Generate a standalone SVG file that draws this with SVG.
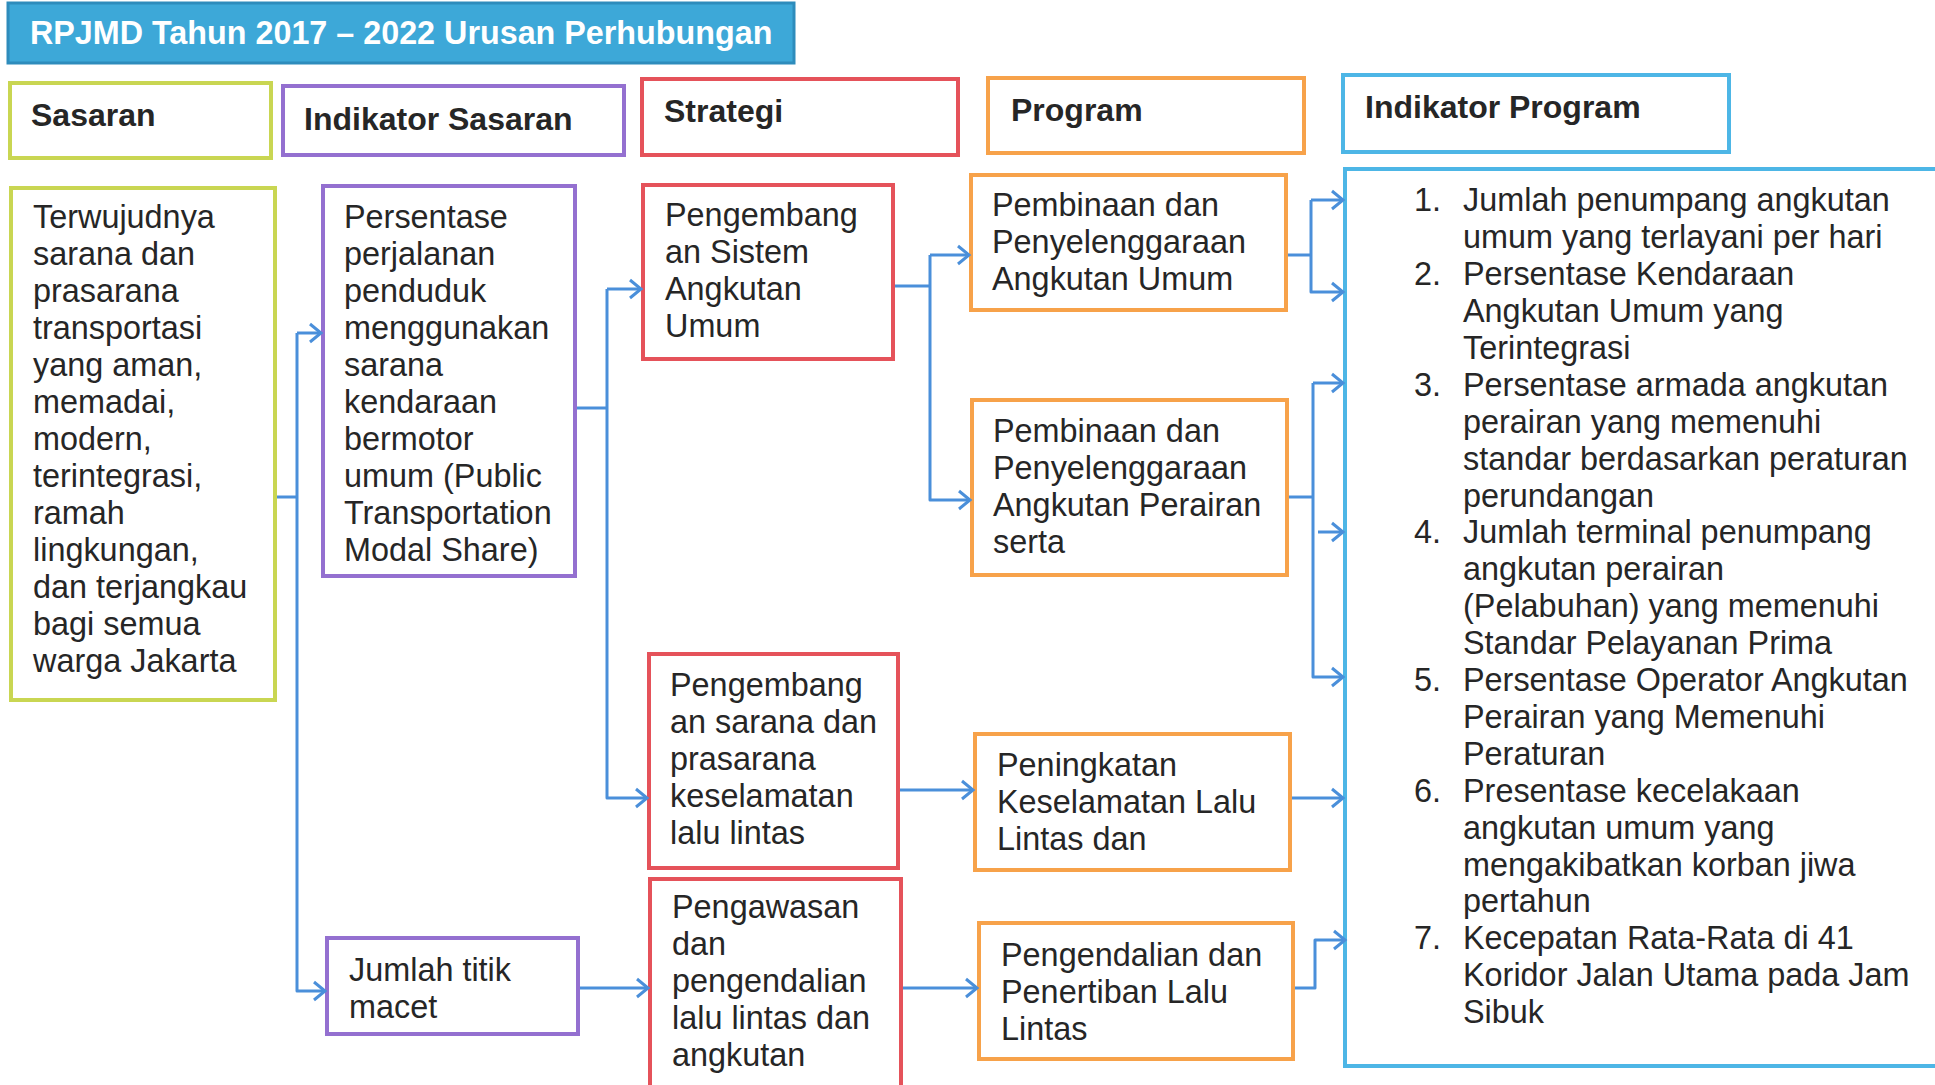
<svg xmlns="http://www.w3.org/2000/svg" width="1935" height="1085" viewBox="0 0 1935 1085">
<style>
.box{fill:#fff;stroke-width:4}
.y{stroke:#C9D652}
.p{stroke:#9470D0}
.r{stroke:#E5525A}
.o{stroke:#F7A24A}
.b{stroke:#4DB6E6}
.hd{font-family:"Liberation Sans",Arial,sans-serif;font-weight:bold;font-size:32px;fill:#262626}
.tx{font-family:"Liberation Sans",Arial,sans-serif;font-size:32.4px;fill:#262626}
.cn{fill:none;stroke:#4A8FDA;stroke-width:3;stroke-linejoin:round}
.ar{marker-end:url(#arr)}
</style>
<defs>
<marker id="arr" markerUnits="userSpaceOnUse" markerWidth="16" markerHeight="22" refX="13" refY="11" orient="auto">
<path d="M2,2 L13,11 L2,20" fill="none" stroke="#4A8FDA" stroke-width="3"/>
</marker>
</defs>
<rect width="1935" height="1085" fill="#fff"/>

<g id="title">
<rect x="8" y="3" width="786" height="60" fill="#3DA8D8" stroke="#2E8CBC" stroke-width="3"/>
<text x="30" y="44" font-family="'Liberation Sans',Arial,sans-serif" font-weight="bold" font-size="32.3" fill="#fff">RPJMD Tahun 2017 – 2022 Urusan Perhubungan</text>
</g>

<g id="hdr-sasaran"><rect class="box y" x="10" y="83" width="261" height="75"/><text class="hd" x="31" y="126">Sasaran</text></g>
<g id="hdr-indikator-sasaran"><rect class="box p" x="283" y="86" width="341" height="69"/><text class="hd" x="304" y="130">Indikator Sasaran</text></g>
<g id="hdr-strategi"><rect class="box r" x="642" y="79" width="316" height="76"/><text class="hd" x="664" y="122">Strategi</text></g>
<g id="hdr-program"><rect class="box o" x="988" y="78" width="316" height="75"/><text class="hd" x="1011" y="121">Program</text></g>
<g id="hdr-indikator-program"><rect class="box b" x="1343" y="75" width="386" height="77"/><text class="hd" x="1365" y="118">Indikator Program</text></g>

<g id="sasaran">
<rect class="box y" x="11" y="188" width="264" height="512"/>
<text class="tx"><tspan x="33" y="228">Terwujudnya</tspan><tspan x="33" dy="37">sarana dan</tspan><tspan x="33" dy="37">prasarana</tspan><tspan x="33" dy="37">transportasi</tspan><tspan x="33" dy="37">yang aman,</tspan><tspan x="33" dy="37">memadai,</tspan><tspan x="33" dy="37">modern,</tspan><tspan x="33" dy="37">terintegrasi,</tspan><tspan x="33" dy="37">ramah</tspan><tspan x="33" dy="37">lingkungan,</tspan><tspan x="33" dy="37">dan terjangkau</tspan><tspan x="33" dy="37">bagi semua</tspan><tspan x="33" dy="37">warga Jakarta</tspan></text>
</g>

<g id="indikator-sasaran-1">
<rect class="box p" x="323" y="186" width="252" height="390"/>
<text class="tx"><tspan x="344" y="228">Persentase</tspan><tspan x="344" dy="37">perjalanan</tspan><tspan x="344" dy="37">penduduk</tspan><tspan x="344" dy="37">menggunakan</tspan><tspan x="344" dy="37">sarana</tspan><tspan x="344" dy="37">kendaraan</tspan><tspan x="344" dy="37">bermotor</tspan><tspan x="344" dy="37">umum (Public</tspan><tspan x="344" dy="37">Transportation</tspan><tspan x="344" dy="37">Modal Share)</tspan></text>
</g>

<g id="indikator-sasaran-2">
<rect class="box p" x="327" y="938" width="251" height="96"/>
<text class="tx"><tspan x="349" y="981">Jumlah titik</tspan><tspan x="349" dy="37">macet</tspan></text>
</g>

<g id="strategi-1">
<rect class="box r" x="643" y="185" width="250" height="174"/>
<text class="tx"><tspan x="665" y="226">Pengembang</tspan><tspan x="665" dy="37">an Sistem</tspan><tspan x="665" dy="37">Angkutan</tspan><tspan x="665" dy="37">Umum</tspan></text>
</g>

<g id="strategi-2">
<rect class="box r" x="649" y="654" width="249" height="214"/>
<text class="tx"><tspan x="670" y="696">Pengembang</tspan><tspan x="670" dy="37">an sarana dan</tspan><tspan x="670" dy="37">prasarana</tspan><tspan x="670" dy="37">keselamatan</tspan><tspan x="670" dy="37">lalu lintas</tspan></text>
</g>

<g id="strategi-3">
<rect class="box r" x="650" y="879" width="251" height="230"/>
<text class="tx"><tspan x="672" y="918">Pengawasan</tspan><tspan x="672" dy="37">dan</tspan><tspan x="672" dy="37">pengendalian</tspan><tspan x="672" dy="37">lalu lintas dan</tspan><tspan x="672" dy="37">angkutan</tspan></text>
</g>

<g id="program-1">
<rect class="box o" x="971" y="175" width="315" height="135"/>
<text class="tx"><tspan x="992" y="216">Pembinaan dan</tspan><tspan x="992" dy="37">Penyelenggaraan</tspan><tspan x="992" dy="37">Angkutan Umum</tspan></text>
</g>

<g id="program-2">
<rect class="box o" x="972" y="400" width="315" height="175"/>
<text class="tx"><tspan x="993" y="442">Pembinaan dan</tspan><tspan x="993" dy="37">Penyelenggaraan</tspan><tspan x="993" dy="37">Angkutan Perairan</tspan><tspan x="993" dy="37">serta</tspan></text>
</g>

<g id="program-3">
<rect class="box o" x="975" y="734" width="315" height="136"/>
<text class="tx"><tspan x="997" y="776">Peningkatan</tspan><tspan x="997" dy="37">Keselamatan Lalu</tspan><tspan x="997" dy="37">Lintas dan</tspan></text>
</g>

<g id="program-4">
<rect class="box o" x="979" y="923" width="314" height="136"/>
<text class="tx"><tspan x="1001" y="966">Pengendalian dan</tspan><tspan x="1001" dy="37">Penertiban Lalu</tspan><tspan x="1001" dy="37">Lintas</tspan></text>
</g>

<g id="indikator-program">
<rect class="box b" x="1345" y="169" width="600" height="897"/>
<text class="tx">
<tspan x="1414" y="211">1.</tspan><tspan x="1463" y="211">Jumlah penumpang angkutan</tspan>
<tspan x="1463" y="248">umum yang terlayani per hari</tspan>
<tspan x="1414" y="285">2.</tspan><tspan x="1463" y="285">Persentase Kendaraan</tspan>
<tspan x="1463" y="322">Angkutan Umum yang</tspan>
<tspan x="1463" y="359">Terintegrasi</tspan>
<tspan x="1414" y="396">3.</tspan><tspan x="1463" y="396">Persentase armada angkutan</tspan>
<tspan x="1463" y="433">perairan yang memenuhi</tspan>
<tspan x="1463" y="470">standar berdasarkan peraturan</tspan>
<tspan x="1463" y="507">perundangan</tspan>
<tspan x="1414" y="543">4.</tspan><tspan x="1463" y="543">Jumlah terminal penumpang</tspan>
<tspan x="1463" y="580">angkutan perairan</tspan>
<tspan x="1463" y="617">(Pelabuhan) yang memenuhi</tspan>
<tspan x="1463" y="654">Standar Pelayanan Prima</tspan>
<tspan x="1414" y="691">5.</tspan><tspan x="1463" y="691">Persentase Operator Angkutan</tspan>
<tspan x="1463" y="728">Perairan yang Memenuhi</tspan>
<tspan x="1463" y="765">Peraturan</tspan>
<tspan x="1414" y="802">6.</tspan><tspan x="1463" y="802">Presentase kecelakaan</tspan>
<tspan x="1463" y="839">angkutan umum yang</tspan>
<tspan x="1463" y="876">mengakibatkan korban jiwa</tspan>
<tspan x="1463" y="912">pertahun</tspan>
<tspan x="1414" y="949">7.</tspan><tspan x="1463" y="949">Kecepatan Rata-Rata di 41</tspan>
<tspan x="1463" y="986">Koridor Jalan Utama pada Jam</tspan>
<tspan x="1463" y="1023">Sibuk</tspan>
</text>
</g>

<g id="connectors">
<path class="cn" d="M277,497 H297"/>
<path class="cn ar" d="M297,333 V991 H325"/>
<path class="cn ar" d="M297,333 H321"/>
<path class="cn" d="M577,408 H607"/>
<path class="cn ar" d="M607,289 H641"/>
<path class="cn ar" d="M607,289 V798 H647"/>
<path class="cn ar" d="M580,988 H648"/>
<path class="cn" d="M895,286 H930"/>
<path class="cn ar" d="M930,255 H969"/>
<path class="cn ar" d="M930,255 V500 H970"/>
<path class="cn ar" d="M900,790 H973"/>
<path class="cn ar" d="M903,988 H977"/>
<path class="cn" d="M1288,255 H1311"/>
<path class="cn ar" d="M1311,200 H1343"/>
<path class="cn ar" d="M1311,200 V292 H1343"/>
<path class="cn" d="M1289,497 H1313"/>
<path class="cn ar" d="M1313,383 H1343"/>
<path class="cn ar" d="M1313,383 V677 H1343"/>
<path class="cn ar" d="M1318,532 H1343"/>
<path class="cn ar" d="M1292,798 H1343"/>
<path class="cn ar" d="M1295,988 H1315 V940 H1345"/>
</g>
</svg>
